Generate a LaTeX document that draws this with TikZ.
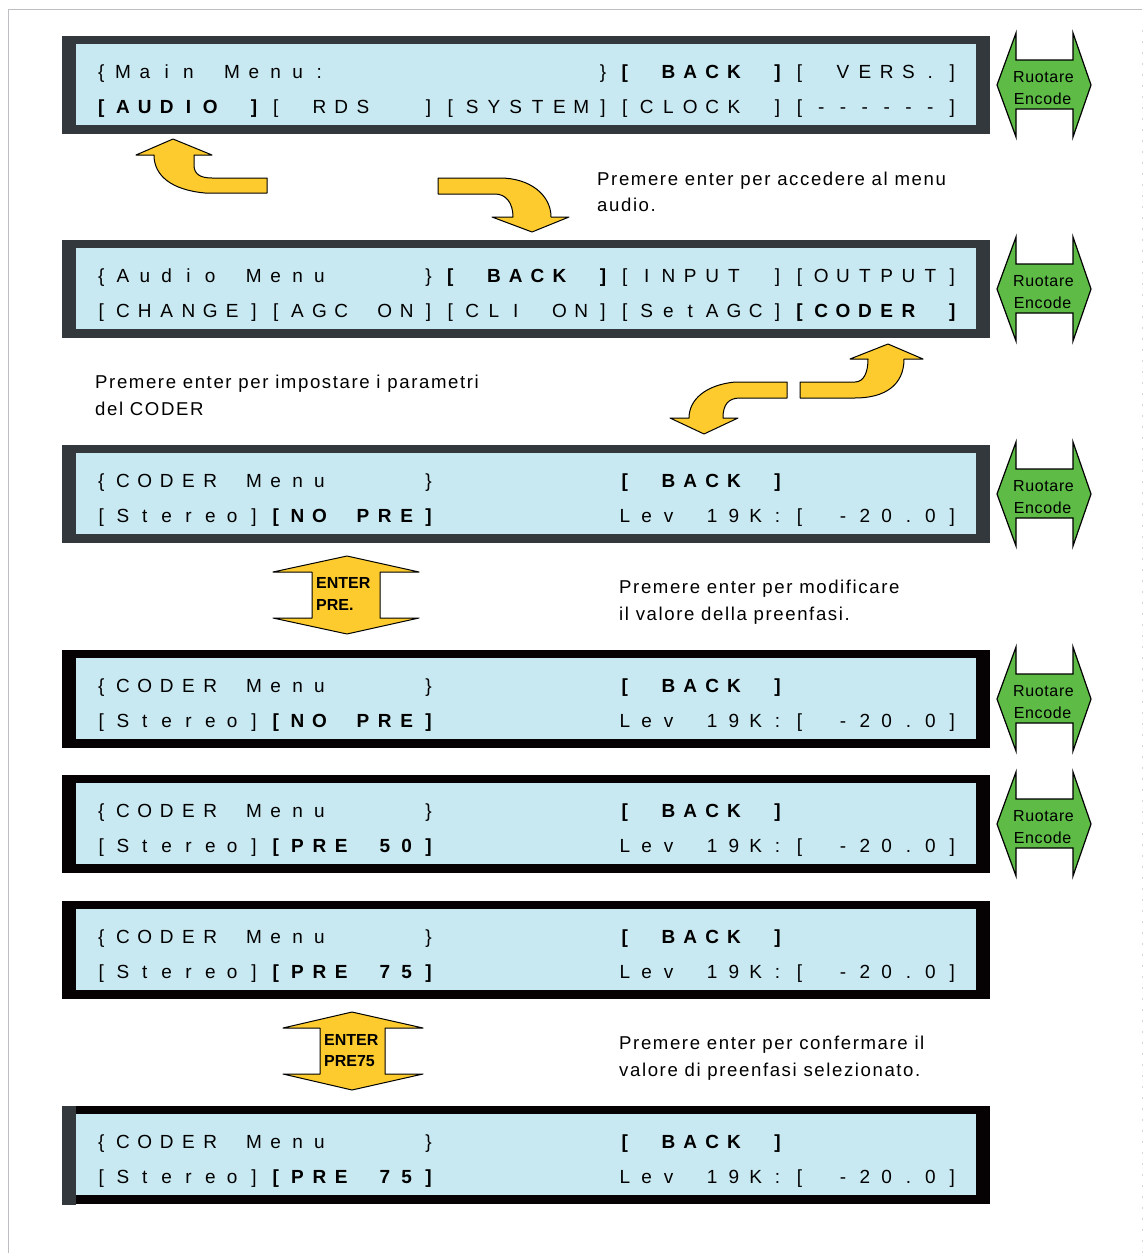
\documentclass[tikz,border=0pt]{standalone}
\usepackage{fontspec}
\setmainfont{Liberation Sans}
\newfontfamily\descfont[LetterSpace=8.6]{Liberation Sans}
\newfontfamily\greenfont[LetterSpace=4]{Liberation Sans}
\newlength\lcdcell \setlength\lcdcell{21.82pt}
\ExplSyntaxOn
\cs_new_protected:Npn \lcd_cells:n #1
  {
    \str_map_inline:nn {#1}
      {
        \str_if_eq:nnTF {##1} {*}
          { \hbox_to_wd:nn {\lcdcell} {\hfil} }
          { \hbox_to_wd:nn {\lcdcell} { \hfil ##1 \hfil } }
      }
  }
\cs_generate_variant:Nn \lcd_cells:n { e }
\NewDocumentCommand \lcdcells { m } { \lcd_cells:e {#1} }
\ExplSyntaxOff
\definecolor{lcddark}{HTML}{33383C}
\definecolor{lcdblack}{HTML}{060203}
\definecolor{lcdblue}{HTML}{C9E9F2}
\definecolor{arrowyellow}{HTML}{FDCB2D}
\definecolor{arrowgreen}{HTML}{5DBB46}
\definecolor{framegray}{HTML}{BDBDC2}
% LCD panel: name, top, border colour
\newcommand\lcdpanel[3]{%
  \node[panelouter, fill=#3] (#1) at (526,#2+49) {};
  \node[panelinner] (#1in) at (526,#2+48.5) {};
}
% LCD text: name, column, baseline y, font switch, string
\newcommand\lcdtext[5]{%
  \node[lcd] (#1) at ({90.09+#2*21.82},#3) {#4\lcdcells{#5}};
}
% green rotate arrow: name, top
\newcommand\rotarrow[2]{%
  \begin{scope}[shift={(0,#2)}]
    \draw[garrow] (997,49) -- (1016,-3) -- (1016,24) -- (1073,24) -- (1073,-3)
      -- (1091,49) -- (1073,101) -- (1073,73) -- (1016,73) -- (1016,101) -- cycle;
    \node[gtext] (#1a) at (1043.5,46) {Ruotare};
    \node[gtext] (#1b) at (1042.5,68) {Encode};
  \end{scope}
}
\begin{document}
\begin{tikzpicture}[x=1pt,y=-1pt,
  panelouter/.style={draw=none, inner sep=0pt, minimum width=928pt, minimum height=98pt},
  panelinner/.style={draw=none, fill=lcdblue, inner sep=0pt, minimum width=900pt, minimum height=81pt},
  lcd/.style={inner sep=0pt, anchor=base west, font=\fontsize{19}{19}\selectfont},
  yarrow/.style={fill=arrowyellow, draw=black, line width=1pt, line join=round},
  garrow/.style={fill=arrowgreen, draw=black, line width=1.2pt, line join=miter},
  gtext/.style={inner sep=0pt, anchor=base, font=\greenfont\fontsize{16}{16}\selectfont},
  etext/.style={inner sep=0pt, anchor=base west, font=\fontsize{16}{16}\selectfont\bfseries},
  desc/.style={inner sep=0pt, anchor=base west, font=\descfont\fontsize{18.6}{18.6}\selectfont}
]
\useasboundingbox (0,0) rectangle (1147,1253);
\fill[white] (0,0) rectangle (1147,1253);
% page frame
\draw[framegray, line width=1.2pt] (8.5,1253) -- (8.5,9.5) -- (1142,9.5);
\draw[framegray!60, line width=1pt, dash pattern=on 2pt off 9pt] (1142,30) -- (1142,1253);

% ---------- Panel 1 ----------
\lcdpanel{p1}{36}{lcddark}
\lcdtext{p1a}{0}{78.3}{}{{Main*Menu:************}}
\lcdtext{p1b}{24}{78.3}{\bfseries}{[*BACK*]}
\lcdtext{p1c}{32}{78.3}{}{[*VERS.]}
\lcdtext{p1d}{0}{113.3}{\bfseries}{[AUDIO*]}
\lcdtext{p1e}{8}{113.3}{}{[*RDS**][SYSTEM][CLOCK*][------]}
\rotarrow{g1}{36}

% ---------- Panel 2 ----------
\lcdpanel{p2}{240}{lcddark}
\lcdtext{p2a}{0}{282.3}{}{{Audio*Menu****}}
\lcdtext{p2b}{16}{282.3}{\bfseries}{[*BACK*]}
\lcdtext{p2c}{24}{282.3}{}{[INPUT*][OUTPUT]}
\lcdtext{p2d}{0}{317.3}{}{[CHANGE][AGC*ON][CLI*ON][SetAGC]}
\lcdtext{p2e}{32}{317.3}{\bfseries}{[CODER*]}
\rotarrow{g2}{240}

% ---------- Panels 3..7 ----------
\foreach \nm/\tp/\col/\val/\grn in {p3/445/lcddark/NO*PRE/1, p4/650/lcdblack/NO*PRE/1, p5/775/lcdblack/PRE*50/1, p6/901/lcdblack/PRE*75/0, p7/1106/lcdblack/PRE*75/0}{
  \lcdpanel{\nm}{\tp}{\col}
  \lcdtext{\nm a}{0}{\tp+42.3}{}{{CODER*Menu****}}
  \lcdtext{\nm b}{24}{\tp+42.3}{\bfseries}{[*BACK*]}
  \lcdtext{\nm c}{0}{\tp+77.3}{}{[Stereo]}
  \lcdtext{\nm d}{8}{\tp+77.3}{\bfseries}{[\val]}
  \lcdtext{\nm e}{24}{\tp+77.3}{}{Lev*19K:[*-20.0]}
  \ifnum\grn=1 \rotarrow{g\nm}{\tp}\fi
}
\fill[lcddark] (62,1106) rectangle (76,1205);

% ---------- yellow arrows ----------
\draw[yarrow] (136,155) -- (173,139) -- (212,155) -- (194,155) -- (194,165)
  .. controls (194,174) and (200,178) .. (212,178) -- (267,178) -- (267,193)
  -- (205,193) .. controls (172,190) and (154,176) .. (154,155) -- cycle;
\draw[yarrow] (438,178) -- (500,178) .. controls (530,178) and (551,195) .. (551,217)
  -- (569,217) -- (532,232) -- (492,217) -- (513,217)
  .. controls (513,203) and (506,194) .. (495,194) -- (438,194) -- cycle;
\draw[yarrow] (800,382) -- (855,382) .. controls (864,382) and (868,372) .. (868,359)
  -- (850,359) -- (888,344) -- (923,359) -- (904,359)
  .. controls (904,385) and (885,398) .. (855,398) -- (800,398) -- cycle;
\draw[yarrow] (787,382) -- (735,382) .. controls (705,385) and (689,400) .. (689,418)
  -- (670,418) -- (704,434) -- (738,418) -- (723,418)
  .. controls (723,405) and (728,398) .. (740,398) -- (787,398) -- cycle;

% ---------- ENTER arrows ----------
\draw[yarrow] (347,556) -- (419,572) -- (380,572) -- (380,618) -- (419,618) -- (347,634)
  -- (273,618) -- (312,618) -- (312,572) -- (273,572) -- cycle;
\node[etext] (e1a) at (316,588.3) {ENTER};
\node[etext] (e1b) at (316,610.7) {PRE.};
\draw[yarrow] (352,1012) -- (423,1028) -- (385,1028) -- (385,1074) -- (423,1074) -- (352,1090)
  -- (283,1074) -- (320,1074) -- (320,1028) -- (283,1028) -- cycle;
\node[etext] (e2a) at (324,1045) {ENTER};
\node[etext] (e2b) at (324,1066.5) {PRE75};

% ---------- descriptions ----------
\node[desc] (d1a) at (597,185) {Premere enter per accedere al menu};
\node[desc] (d1b) at (597,211.7) {audio.};
\node[desc] (d2a) at (95,388.7) {Premere enter per impostare i parametri};
\node[desc] (d2b) at (95,415.4) {del CODER};
\node[desc] (d3a) at (619,593.7) {Premere enter per modificare};
\node[desc] (d3b) at (619,620.4) {il valore della preenfasi.};
\node[desc] (d4a) at (619,1049.7) {Premere enter per confermare il};
\node[desc] (d4b) at (619,1076.4) {valore di preenfasi selezionato.};
\end{tikzpicture}
\end{document}
